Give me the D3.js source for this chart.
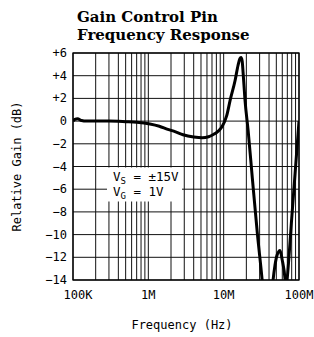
<!DOCTYPE html>
<html>
<head>
<meta charset="utf-8">
<script src="https://cdn.jsdelivr.net/npm/d3@7"></script>
<style>
  body { margin: 0; background: #fff; }
  text { font-family: "DejaVu Sans Mono", monospace; fill: #000; }
</style>
</head>
<body>
<div id="chart"></div>
<script>
// Curve (frequency in Hz, gain in dB)
var freqHz = [1.0e5, 1.06e5, 1.15e5, 1.3e5, 1.5e5, 2e5, 3e5, 5e5, 7e5, 1.05e6,
  1.4e6, 1.77e6, 2.3e6, 2.89e6, 4e6, 5.2e6, 6.3e6, 7.2e6, 8.4e6, 9.5e6,
  11e6, 12.2e6, 14.2e6, 15.5e6, 16.4e6, 17e6, 17.6e6, 18.1e6, 19.2e6, 21.1e6,
  24e6, 28e6, 32.4e6, 35e6, 40e6, 45.3e6, 48e6, 51.2e6, 56e6, 59.7e6,
  65.4e6, 67e6, 69.5e6, 80e6, 100e6];
var gainDb = [0.0, 0.15, 0.2, 0.05, 0.0, 0.0, 0.0, -0.05, -0.1, -0.25,
  -0.45, -0.7, -0.95, -1.2, -1.4, -1.47, -1.38, -1.2, -0.9, -0.5,
  0.5, 1.85, 3.6, 4.9, 5.5, 5.6, 5.3, 4.3, 1.85, -0.8,
  -5.0, -9.9, -14, -16.6, -19, -14, -12.7, -11.8, -11.4, -12.2,
  -14, -15, -14, -8.6, 0];

var xTickValues = [1e5, 1e6, 1e7, 1e8];
var xTickLabels = ["100K", "1M", "10M", "100M"];
var yTickValues = [6, 4, 2, 0, -2, -4, -6, -8, -10, -12, -14];
var yTickLabels = ["+6", "+4", "+2", "0", "\u22122", "\u22124", "\u22126", "\u22128", "\u221210", "\u221212", "\u221214"];

var W = 314, H = 337;
var margin = {top: 53, right: 15, bottom: 57, left: 73},
    width = W - margin.left - margin.right,
    height = H - margin.top - margin.bottom;

var root = d3.select("#chart").append("svg")
  .attr("width", W)
  .attr("height", H);

// title
root.append("text")
  .attr("x", 77).attr("y", 22)
  .style("font-family", "'DejaVu Serif', serif")
  .style("font-weight", "bold")
  .style("font-size", "15px")
  .text("Gain Control Pin");
root.append("text")
  .attr("x", 77).attr("y", 40)
  .style("font-family", "'DejaVu Serif', serif")
  .style("font-weight", "bold")
  .style("font-size", "15px")
  .text("Frequency Response");

var svg = root.append("g")
  .attr("transform", `translate(${margin.left},${margin.top})`);

var x = d3.scaleLog().domain([1e5, 1e8]).range([0, width]);
var y = d3.scaleLinear().domain([-14, 6]).range([height, 0]);

// vertical grid: 1..9 in every decade
var minorX = [];
[1e5, 1e6, 1e7].forEach(function(d) {
  for (var k = 2; k <= 9; k++) minorX.push(d * k);
});
svg.append("g").selectAll("line")
  .data(minorX.concat(xTickValues))
  .enter().append("line")
    .attr("x1", d => x(d)).attr("x2", d => x(d))
    .attr("y1", 0).attr("y2", height)
    .attr("stroke", "#111")
    .attr("stroke-width", 1);

// horizontal grid
svg.append("g").selectAll("line")
  .data(yTickValues)
  .enter().append("line")
    .attr("x1", 0).attr("x2", width)
    .attr("y1", d => y(d)).attr("y2", d => y(d))
    .attr("stroke", "#111")
    .attr("stroke-width", 1);

// frame
svg.append("rect")
  .attr("width", width).attr("height", height)
  .attr("fill", "none")
  .attr("stroke", "#000")
  .attr("stroke-width", 1.3);

// legend box blanks out the grid
svg.append("rect")
  .attr("x", 34).attr("y", y(-4) + 1)
  .attr("width", 75).attr("height", 34)
  .attr("fill", "#fff");

var leg = svg.append("g").attr("transform", "translate(40,0)")
  .style("font-size", "12.5px");
var t1 = leg.append("text").attr("y", y(-4) + 14);
t1.append("tspan").text("V");
t1.append("tspan").attr("dy", 3).style("font-size", "9px").text("S");
t1.append("tspan").attr("dy", -3).text(" = \u00b115V");
var t2 = leg.append("text").attr("y", y(-4) + 29);
t2.append("tspan").text("V");
t2.append("tspan").attr("dy", 3).style("font-size", "9px").text("G");
t2.append("tspan").attr("dy", -3).text(" = 1V");

// curve
svg.append("clipPath").attr("id", "clip")
  .append("rect").attr("width", width).attr("height", height);

var pts = freqHz.map((f, i) => [f, gainDb[i]]);
var line = d3.line()
  .x(d => x(d[0]))
  .y(d => y(d[1]))
  .curve(d3.curveMonotoneX);

svg.append("path")
  .datum(pts)
  .attr("clip-path", "url(#clip)")
  .attr("d", line)
  .attr("fill", "none")
  .attr("stroke", "#000")
  .attr("stroke-width", 3)
  .attr("stroke-linejoin", "round");

// tick labels
svg.append("g").selectAll("text")
  .data(yTickValues)
  .enter().append("text")
    .attr("x", -6)
    .attr("y", d => y(d) + 4)
    .attr("text-anchor", "end")
    .style("font-size", "12px")
    .text((d, i) => yTickLabels[i]);

svg.append("g").selectAll("text")
  .data(xTickValues)
  .enter().append("text")
    .attr("x", (d, i) => x(d) + (i === 0 ? 5 : 0))
    .attr("y", height + 19)
    .attr("text-anchor", "middle")
    .style("font-size", "12px")
    .text((d, i) => xTickLabels[i]);

// axis titles
svg.append("text")
  .attr("x", width / 2 - 4)
  .attr("y", height + 49)
  .attr("text-anchor", "middle")
  .style("font-size", "12px")
  .text("Frequency (Hz)");

svg.append("text")
  .attr("transform", `translate(-52,${height / 2}) rotate(-90)`)
  .attr("text-anchor", "middle")
  .style("font-size", "12px")
  .text("Relative Gain (dB)");
</script>
</body>
</html>
